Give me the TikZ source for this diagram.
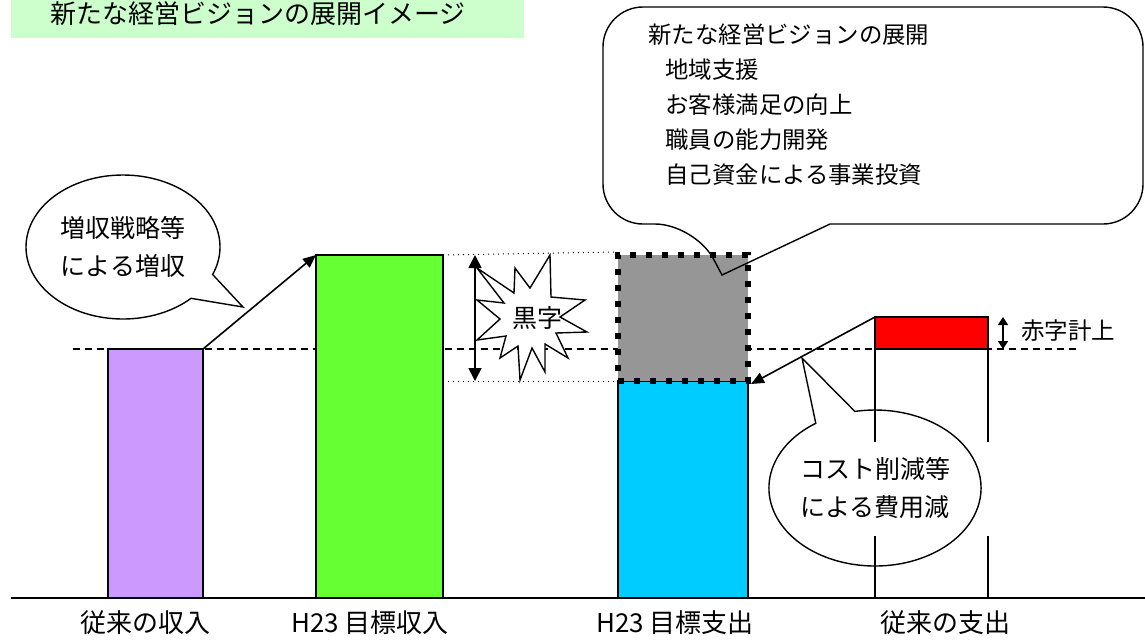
\documentclass[tikz,border=0pt]{standalone}
\usepackage{fontspec}
\setmainfont{Noto Sans CJK JP}
\usetikzlibrary{arrows.meta, fit, shapes.callouts}
\definecolor{titlegreen}{HTML}{CCFFCC}
\definecolor{incpurple}{HTML}{CC99FF}
\definecolor{incgreen}{HTML}{66FF33}
\definecolor{expcyan}{HTML}{00CCFF}
\definecolor{surplusgray}{HTML}{969696}

\begin{document}
\begin{tikzpicture}[x = 0.5pt, y = -0.5pt,
	bar/.style = {draw = black, line width = 0.7pt, inner sep = 0pt, outer sep = 0pt},
	guide/.style = {dotted, line width = 0.5pt},
	conn/.style = {line width = 0.8pt, -{Triangle[length = 6.5pt, width = 5.5pt]}},
	gap/.style = {line width = 0.8pt, {Triangle[length = 6.5pt, width = 6.5pt]}-{Triangle[length = 6.5pt, width = 6.5pt]}},
	smallgap/.style = {line width = 0.8pt, {Triangle[length = 4pt, width = 5pt]}-{Triangle[length = 4pt, width = 5pt]}},
	bubble/.style = {ellipse callout, draw = black, line width = 0.7pt, inner sep = 0pt, callout pointer arc = 23, align = center, font = \fontsize{12.5}{19}\selectfont},
	caption/.style = {inner sep = 0pt, font = \fontsize{13}{15}\selectfont}]
	\useasboundingbox (0,0) rectangle (1145,639);
	\fill[titlegreen] (11,0) rectangle (524,38);
	\node[caption, anchor = west] (title) at (50,14) {新たな経営ビジョンの展開イメージ};
	\draw[line width = 0.7pt, dash pattern = on 3.5pt off 2.5pt] (73,349) -- (1077,349);
	\foreach \name/\xa/\ya/\xb/\yb/\col in {oldinc/108/349/203/598/incpurple, newinc/316/255/443/598/incgreen, newexp/618/381/748/598/expcyan, oldexp/875/349/988/598/white, deficit/875/317/988/349/red}{
		\node[bar, fill = \col, fit = {(\xa,\ya) (\xb,\yb)}] (\name) {};}
	\node[fill = surplusgray, draw = black, line width = 3pt, dash pattern = on 3pt off 5pt, inner sep = 0pt, fit = {(618,255) (748,381)}] (surplus) {};
	\draw[guide] (newinc.north east) -- (surplus.north west);
	\draw[guide] (newinc.east |- newexp.north) -- (newexp.north west);
	\draw[line width = 1pt] (11,598) -- (1145,598);
	\draw[conn] (oldinc.north east) -- (newinc.north west);
	\draw[conn] (deficit.north west) -- (surplus.south east);
	\draw[gap] ([xshift = 16pt]newinc.north east) -- ([xshift = 16pt]newinc.north east |- newexp.north);
	\draw[smallgap] ([xshift = 7.5pt]deficit.north east) -- ([xshift = 7.5pt]deficit.south east);
	\node[inner sep = 0pt, anchor = west, font = \fontsize{11.75}{14}\selectfont] (deflab) at (1021,331) {赤字計上};
	\draw[fill = white, line width = 0.7pt] plot coordinates {(550,255) (551,297) (585,300) (560,317) (587,332) (556,333) (568,358) (545,344) (545,372) (532,348) (520,380) (518,346) (500,358) (506,336) (477,340) (500,319) (477,300) (504,303) (477,268) (514,293) (515,268) (530,288)} -- cycle;
	\node[inner sep = 0pt, font = \fontsize{12.5}{15}\selectfont] (black) at (537,318) {黒字};
	\coordinate (gaintip) at (243,307);
	\node[bubble, fill = white, minimum width = 97pt, minimum height = 72pt, callout absolute pointer = {(gaintip)}] (gain) at (123,247) {増収戦略等\\による増収};
	\coordinate (cuttip) at (802,358);
	\node[fill = white, inner sep = 0pt, minimum width = 110pt, minimum height = 47pt] (cutbox) at (880,489) {};
	\node[bubble, minimum width = 97pt, minimum height = 78pt, callout absolute pointer = {(cuttip)}] (cut) at (875,488) {コスト削減等\\による費用減};
	\coordinate (visiontip) at (722,275);
	\draw[line width = 0.7pt] (900,224) [rounded corners = 20pt] -- (1143,224) -- (1143,7) -- (603,7) -- (603,224) -- (695,224) [sharp corners] -- (visiontip) -- (830,224) -- cycle;
	\node[anchor = west, align = left, inner sep = 0pt, font = \fontsize{11.7}{17.5}\selectfont] (vision) at (648,105) {新たな経営ビジョンの展開\\\hspace{8.5pt}地域支援\\\hspace{8.5pt}お客様満足の向上\\\hspace{8.5pt}職員の能力開発\\\hspace{8.5pt}自己資金による事業投資};
	\foreach \x/\txt [count = \k] in {145/従来の収入, 370/H23 目標収入, 675/H23 目標支出, 945/従来の支出}{
		\node[caption] (lab\k) at (\x,623) {\txt};}
\end{tikzpicture}
\end{document}
